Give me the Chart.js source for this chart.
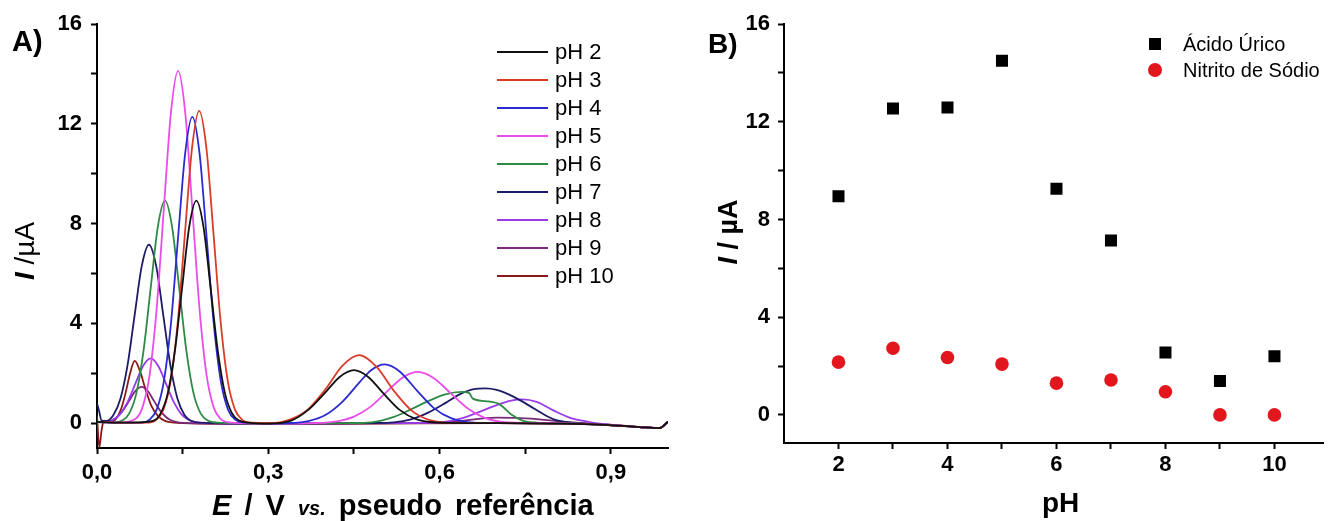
<!DOCTYPE html>
<html lang="pt-BR">
<head>
  <meta charset="UTF-8">
  <title>Efeito do pH - Ácido Úrico e Nitrito</title>
  <script src="https://cdn.jsdelivr.net/npm/chart.js"></script>
  <style>
    body {
      margin: 0;
      background: #ffffff;
      color: #000000;
      font-family: 'Liberation Sans', Arial, sans-serif;
    }

    #painel {
      position: relative;
      width: 1332px;
      height: 521px;
      overflow: hidden;
    }

    canvas {
      position: absolute;
      top: 0;
    }

    .txt {
      position: absolute;
      white-space: nowrap;
      line-height: 1;
    }

    .negrito { font-weight: bold; }

    .vertical {
      transform: translate(-50%, -50%) rotate(-90deg);
    }

    .leg-linha {
      position: absolute;
      height: 2px;
    }

    .leg-txt {
      position: absolute;
      white-space: nowrap;
    }
  </style>
</head>
<body>
  <div id="painel">
    <canvas id="graficoA" width="680" height="521" style="left:0"></canvas>
    <canvas id="graficoB" width="652" height="521" style="left:680px"></canvas>

    <div class="txt negrito" style="left:12px;top:27px;font-size:29px">A)</div>
    <div class="txt negrito" style="left:708px;top:30px;font-size:28px">B)</div>

    <div class="txt vertical" style="left:25px;top:251px;font-size:28px"><b><i>I</i></b> /µA</div>
    <div class="txt negrito" style="left:212px;top:491px;font-size:29px;word-spacing:5px"><i>E</i> / V <i style="font-size:20px">vs.</i> pseudo referência</div>

    <div class="txt vertical negrito" style="left:728px;top:232px;font-size:27px"><i>I</i> / µA</div>
    <div class="txt negrito" style="left:1042px;top:489px;font-size:28px">pH</div>

    <div id="legendaA"></div>
    <div id="legendaB"></div>
  </div>

  <script>
    // ---- painel A: voltamogramas ----
    const rotulosPH = ["pH 2", "pH 3", "pH 4", "pH 5", "pH 6", "pH 7", "pH 8", "pH 9", "pH 10"];
    const cores = ["#111111", "#d93d2a", "#2a2ad0", "#ea4dea", "#2e8b45", "#1c1c66", "#9a3ae8", "#7a2a7a", "#8a1a1a"];

    const e_pH2 = [0, 0.03, 0.07, 0.099, 0.1115, 0.124, 0.1365, 0.149, 0.1615, 0.174, 0.1865, 0.199, 0.2115, 0.224, 0.2365, 0.249, 0.265, 0.30, 0.34, 0.37, 0.40, 0.425, 0.45, 0.475, 0.50, 0.53, 0.56, 0.60, 0.70, 0.80, 0.88, 0.95, 0.985, 1.0];
    const i_pH2 = [0.05, 0.02, 0.03, 0.1, 0.39, 1.2, 2.9, 5.41, 7.87, 8.92, 7.87, 5.41, 2.9, 1.2, 0.39, 0.1, 0.02, -0.02, 0.1, 0.53, 1.23, 1.85, 2.12, 1.85, 1.23, 0.53, 0.15, 0.02, 0, -0.02, -0.06, -0.16, -0.2, 0.05];

    const e_pH3 = [0, 0.04, 0.09, 0.104, 0.1165, 0.129, 0.1415, 0.154, 0.1665, 0.179, 0.1915, 0.204, 0.2165, 0.229, 0.2415, 0.254, 0.27, 0.31, 0.34, 0.37, 0.40, 0.43, 0.459, 0.49, 0.52, 0.55, 0.58, 0.62, 0.70, 0.80, 0.88, 0.95, 0.985, 1.0];
    const i_pH3 = [0.05, 0.02, 0.02, 0.14, 0.55, 1.69, 4.07, 7.6, 11.04, 12.52, 11.04, 7.6, 4.07, 1.69, 0.55, 0.14, 0.02, 0.01, 0.16, 0.56, 1.35, 2.3, 2.72, 2.24, 1.29, 0.52, 0.14, 0.01, 0, -0.02, -0.06, -0.16, -0.2, 0.05];

    const e_pH4 = [0, 0.04, 0.078, 0.092, 0.1045, 0.117, 0.1295, 0.142, 0.1545, 0.167, 0.1795, 0.192, 0.2045, 0.217, 0.2295, 0.242, 0.26, 0.32, 0.37, 0.40, 0.43, 0.46, 0.48, 0.504, 0.53, 0.56, 0.59, 0.62, 0.66, 0.72, 0.80, 0.88, 0.95, 0.985, 1.0];
    const i_pH4 = [0.05, 0.02, 0.01, 0.14, 0.54, 1.66, 3.99, 7.45, 10.83, 12.28, 10.83, 7.45, 3.99, 1.66, 0.54, 0.14, 0.02, -0.01, 0.08, 0.32, 0.86, 1.64, 2.12, 2.35, 2.07, 1.31, 0.6, 0.2, 0.02, 0, -0.02, -0.06, -0.16, -0.2, 0.05];

    const e_pH5 = [0, 0.04, 0.067, 0.0795, 0.092, 0.1045, 0.117, 0.1295, 0.142, 0.1545, 0.167, 0.1795, 0.192, 0.2045, 0.217, 0.235, 0.30, 0.38, 0.42, 0.45, 0.48, 0.51, 0.535, 0.562, 0.59, 0.62, 0.65, 0.68, 0.72, 0.80, 0.88, 0.95, 0.985, 1.0];
    const i_pH5 = [0.05, 0.02, 0.16, 0.62, 1.91, 4.59, 8.57, 12.45, 14.12, 12.45, 8.57, 4.59, 1.91, 0.62, 0.16, 0.02, -0.02, 0, 0.07, 0.26, 0.67, 1.31, 1.82, 2.05, 1.8, 1.18, 0.57, 0.2, 0.03, 0, -0.06, -0.16, -0.2, 0.05];

    const e_pH6 = [0, 0.03, 0.044, 0.0565, 0.069, 0.0815, 0.094, 0.1065, 0.119, 0.1315, 0.144, 0.1565, 0.169, 0.1815, 0.194, 0.21, 0.30, 0.44, 0.48, 0.52, 0.55, 0.58, 0.61, 0.638, 0.652, 0.658, 0.68, 0.705, 0.725, 0.745, 0.77, 0.82, 0.88, 0.95, 0.985, 1.0];
    const i_pH6 = [0.05, 0.02, 0.1, 0.39, 1.2, 2.9, 5.41, 7.87, 8.92, 7.87, 5.41, 2.9, 1.2, 0.39, 0.1, 0.02, -0.02, 0, 0.03, 0.25, 0.55, 0.88, 1.15, 1.25, 1.2, 0.98, 0.88, 0.75, 0.35, 0.1, 0.02, 0, -0.06, -0.16, -0.2, 0.05];

    const e_pH7 = [0, 0.004, 0.008, 0.016, 0.0285, 0.041, 0.0535, 0.066, 0.0785, 0.091, 0.1035, 0.116, 0.1285, 0.141, 0.1535, 0.166, 0.18, 0.30, 0.48, 0.52, 0.55, 0.58, 0.61, 0.635, 0.66, 0.68, 0.70, 0.73, 0.757, 0.78, 0.80, 0.825, 0.88, 0.95, 0.985, 1.0];
    const i_pH7 = [0.8, 0.45, 0.1, 0.08, 0.31, 0.97, 2.32, 4.34, 6.31, 7.15, 6.31, 4.34, 2.32, 0.97, 0.31, 0.08, 0.02, -0.02, 0, 0.03, 0.15, 0.42, 0.8, 1.15, 1.36, 1.39, 1.33, 1.05, 0.7, 0.38, 0.15, 0.03, -0.06, -0.16, -0.2, 0.05];

    const e_pH8 = [0, 0.013, 0.0265, 0.04, 0.0535, 0.067, 0.0805, 0.094, 0.1075, 0.121, 0.1345, 0.148, 0.1615, 0.175, 0.19, 0.30, 0.50, 0.60, 0.64, 0.67, 0.70, 0.725, 0.745, 0.77, 0.80, 0.83, 0.86, 0.88, 0.95, 0.985, 1.0];
    const i_pH8 = [0.05, 0.03, 0.11, 0.35, 0.84, 1.57, 2.28, 2.59, 2.28, 1.57, 0.84, 0.35, 0.11, 0.03, 0, -0.02, 0, 0.03, 0.2, 0.45, 0.72, 0.9, 0.95, 0.85, 0.5, 0.2, 0.05, -0.02, -0.16, -0.2, 0.05];

    const e_pH9 = [0, 0.01, 0.03, 0.045, 0.056, 0.067, 0.078, 0.089, 0.1, 0.111, 0.126, 0.145, 0.16, 0.30, 0.55, 0.62, 0.70, 0.76, 0.82, 0.88, 0.95, 0.985, 1.0];
    const i_pH9 = [0.05, 0.02, 0.15, 0.49, 0.88, 1.28, 1.45, 1.28, 0.88, 0.49, 0.15, 0.02, 0, -0.02, 0, 0.05, 0.22, 0.18, 0.05, -0.04, -0.16, -0.2, 0.05];

    const e_pH10 = [0, 0.004, 0.008, 0.012, 0.02, 0.03, 0.042, 0.05, 0.058, 0.066, 0.075, 0.085, 0.095, 0.107, 0.12, 0.135, 0.15, 0.30, 0.50, 0.70, 0.88, 0.95, 0.985, 1.0];
    const i_pH10 = [0.3, -0.98, -0.3, 0.1, 0.05, 0.1, 0.55, 1.2, 2.0, 2.49, 2.1, 1.35, 0.7, 0.28, 0.08, 0.02, 0, -0.04, -0.02, 0, -0.04, -0.16, -0.2, 0.05];

    const potenciais = [e_pH2, e_pH3, e_pH4, e_pH5, e_pH6, e_pH7, e_pH8, e_pH9, e_pH10];
    const correntes = [i_pH2, i_pH3, i_pH4, i_pH5, i_pH6, i_pH7, i_pH8, i_pH9, i_pH10];

    const ticksXA = [0, 0.15, 0.3, 0.45, 0.6, 0.75, 0.9];
    const rotulosXA = ["0,0", "", "0,3", "", "0,6", "", "0,9"];
    const ticksY = [0, 2, 4, 6, 8, 10, 12, 14, 16];
    const rotulosY = ["0", "", "4", "", "8", "", "12", "", "16"];

    // ---- painel B: corrente de pico x pH ----
    const valoresPH = [2, 3, 4, 5, 6, 7, 8, 9, 10];
    const acidoUrico = [8.95, 12.54, 12.58, 14.5, 9.26, 7.14, 2.55, 1.39, 2.4];
    const nitrito = [2.16, 2.73, 2.35, 2.08, 1.30, 1.43, 0.95, 0, 0];
    const ticksXB = [2, 3, 4, 5, 6, 7, 8, 9, 10];
    const rotulosXB = ["2", "", "4", "", "6", "", "8", "", "10"];

    Chart.defaults.font.family = "'Liberation Sans', Arial, sans-serif";
    Chart.defaults.color = "#000";

    const grade = { drawOnChartArea: false, drawTicks: true, tickLength: 6, tickWidth: 2, tickColor: "#000" };
    const borda = { display: true, color: "#000", width: 2 };

    function eixo(min, max, ticks, rotulos, pad, extra) {
      return Object.assign({
        type: "linear",
        min: min,
        max: max,
        afterBuildTicks: s => { s.ticks = ticks.map(v => ({ value: v })); },
        ticks: {
          font: { size: 22, weight: "bold" },
          color: "#000",
          padding: pad,
          autoSkip: false,
          maxRotation: 0,
          callback: (v, i) => rotulos[i]
        },
        grid: grade,
        border: borda
      }, extra);
    }

    new Chart(document.getElementById("graficoA"), {
      type: "line",
      data: {
        datasets: rotulosPH.map((rot, k) => ({
          label: rot,
          data: potenciais[k].map((e, j) => ({ x: e, y: correntes[k][j] })),
          borderColor: cores[k],
          borderWidth: 1.8,
          pointRadius: 0,
          fill: false,
          cubicInterpolationMode: "monotone"
        }))
      },
      options: {
        responsive: false,
        animation: false,
        events: [],
        layout: { padding: { top: 24, right: 12, left: 0, bottom: 0 } },
        plugins: { legend: { display: false }, tooltip: { enabled: false } },
        scales: {
          x: eixo(0, 1.0, ticksXA, rotulosXA, 6, { afterFit: s => { s.height = 73; } }),
          y: eixo(-1, 16, ticksY, rotulosY, 9, { afterFit: s => { s.width = 97; } })
        }
      }
    });

    new Chart(document.getElementById("graficoB"), {
      type: "scatter",
      data: {
        datasets: [{
          label: "Ácido Úrico",
          data: valoresPH.map((p, j) => ({ x: p, y: acidoUrico[j] })),
          pointStyle: "rect",
          pointRadius: 8.5,
          backgroundColor: "#000",
          borderWidth: 0
        }, {
          label: "Nitrito de Sódio",
          data: valoresPH.map((p, j) => ({ x: p, y: nitrito[j] })),
          pointStyle: "circle",
          pointRadius: 6.8,
          backgroundColor: "#e3161e",
          borderWidth: 0
        }]
      },
      options: {
        responsive: false,
        animation: false,
        events: [],
        layout: { padding: { top: 24, right: 0, left: 0, bottom: 0 } },
        plugins: { legend: { display: false }, tooltip: { enabled: false } },
        scales: {
          x: eixo(1, 10.9, ticksXB, rotulosXB, 3, { afterFit: s => { s.height = 78; } }),
          y: eixo(-1.15, 16, ticksY, rotulosY, 8, { afterFit: s => { s.width = 104; } })
        }
      }
    });

    // legendas em HTML
    const legA = document.getElementById("legendaA");
    rotulosPH.forEach((rot, k) => {
      const y = 52 + 28 * k;
      legA.insertAdjacentHTML("beforeend",
        `<div class="leg-linha" style="left:497px;top:${y - 1}px;width:51px;background:${cores[k]}"></div>` +
        `<div class="leg-txt" style="left:555px;top:${y - 14}px;font-size:22px;line-height:28px">${rot}</div>`);
    });

    const legB = document.getElementById("legendaB");
    legB.insertAdjacentHTML("beforeend",
      `<div style="position:absolute;left:1149px;top:38px;width:12px;height:12px;background:#000"></div>` +
      `<div class="leg-txt" style="left:1183px;top:31px;font-size:20px;line-height:26px">Ácido Úrico</div>` +
      `<div style="position:absolute;left:1148px;top:63px;width:14px;height:14px;border-radius:50%;background:#e3161e"></div>` +
      `<div class="leg-txt" style="left:1183px;top:57px;font-size:20px;line-height:26px">Nitrito de Sódio</div>`);
  </script>
</body>
</html>
